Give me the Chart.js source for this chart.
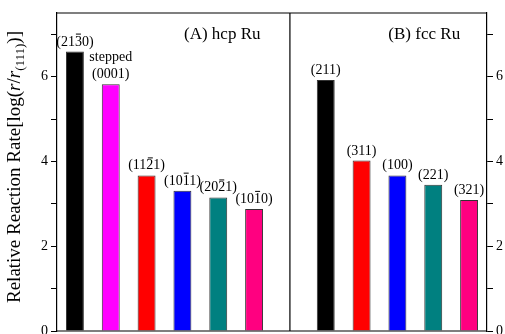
<!DOCTYPE html>
<html>
<head>
<meta charset="utf-8">
<script src="https://cdn.jsdelivr.net/npm/chart.js@4/dist/chart.umd.min.js"></script>
<style>
	html, body { margin: 0; padding: 0; background: #fff; overflow: hidden; }
	#wrap { width: 505px; height: 334px; overflow: hidden; }
</style>
</head>
<body>
<div id="wrap"><canvas id="canvasRate" width="505" height="360"></canvas></div>
<script>
// facets (U+0305 = overbar on the preceding digit)
var hcpFacets = ['(213\u03050)', '(0001)', '(112\u03051)', '(101\u03051)', '(202\u03051)', '(101\u03050)'];
var hcpRates = [6.59, 5.82, 3.67, 3.31, 3.15, 2.88];
var hcpColors = ['#000000', '#ff00ff', '#ff0000', '#0000ff', '#008080', '#ff0080'];

var fccFacets = ['(211)', '(311)', '(100)', '(221)', '(321)'];
var fccRates = [5.92, 4.02, 3.67, 3.45, 3.09];
var fccColors = ['#000000', '#ff0000', '#0000ff', '#008080', '#ff0080'];

var yTicks = [0, 2, 4, 6];
var panelTitles = ['(A) hcp Ru', '(B) fcc Ru'];
var extraNote = 'stepped';   // sits above (0001)

var SERIF = '"Liberation Serif", "DejaVu Serif", serif';

// one empty slot between the two panels
var allLabels = hcpFacets.concat(['']).concat(fccFacets);
var allRates = hcpRates.concat([null]).concat(fccRates);
var allColors = hcpColors.concat(['#fff']).concat(fccColors);
var gapIndex = hcpFacets.length;

/***********************************************************************************************
 * text with overbars
 ***********************************************************************************************/
function drawBarText(ctx, text, cx, y) {
	var plain = text.replace(/\u0305/g, '');
	var w = ctx.measureText(plain).width;
	var x = cx - w / 2;
	ctx.textAlign = 'left';
	ctx.fillText(plain, x, y);
	for (var i = 0; i < text.length; i++) {
		var ch = text[i];
		if (ch === '\u0305') continue;
		var cw = ctx.measureText(ch).width;
		if (text[i + 1] === '\u0305') {
			ctx.beginPath();
			ctx.lineWidth = 1;
			ctx.moveTo(x + 1, y - 11.5);
			ctx.lineTo(x + cw - 1, y - 11.5);
			ctx.stroke();
		}
		x += cw;
	}
}

var decorPlugin = {
	id: 'decor',
	afterDatasetsDraw: function(chart) {
		var ctx = chart.ctx;
		var area = chart.chartArea;
		var xs = chart.scales.x;
		ctx.save();
		ctx.strokeStyle = '#000';
		ctx.fillStyle = '#000';

		// frame + divider
		ctx.lineWidth = 1.2;
		ctx.beginPath();
		ctx.moveTo(area.left, area.top);
		ctx.lineTo(area.right, area.top);
		ctx.moveTo(area.left, area.bottom);
		ctx.lineTo(area.right, area.bottom);
		var xd = xs.getPixelForValue(gapIndex);
		ctx.moveTo(xd, area.top);
		ctx.lineTo(xd, area.bottom);
		ctx.stroke();

		// bar labels
		ctx.font = '14px ' + SERIF;
		ctx.textBaseline = 'alphabetic';
		var meta = chart.getDatasetMeta(0);
		meta.data.forEach(function(bar, i) {
			if (allRates[i] === null) return;
			drawBarText(ctx, allLabels[i], bar.x, bar.y - 6);
			if (i === 1) {
				ctx.textAlign = 'center';
				ctx.fillText(extraNote, bar.x, bar.y - 23);
			}
		});

		// panel titles
		ctx.font = '17px ' + SERIF;
		ctx.textAlign = 'center';
		ctx.fillText(panelTitles[0], xs.getPixelForValue(4) + 4, area.top + 26);
		ctx.fillText(panelTitles[1], xs.getPixelForValue(10) - 9, area.top + 26);

		// y title: Relative Reaction Rate[log(r/r_(111))]
		var parts = [
			{ t: 'Relative Reaction Rate[log(', f: '19px ' + SERIF, dy: 0 },
			{ t: 'r', f: 'italic 19px ' + SERIF, dy: 0 },
			{ t: '/', f: '19px ' + SERIF, dy: 0 },
			{ t: 'r', f: 'italic 19px ' + SERIF, dy: 0 },
			{ t: '(111)', f: '13px ' + SERIF, dy: 4 },
			{ t: ')]', f: '19px ' + SERIF, dy: 0 }
		];
		var total = 0;
		parts.forEach(function(p) { ctx.font = p.f; p.w = ctx.measureText(p.t).width; total += p.w; });
		ctx.translate(20, 167);
		ctx.rotate(-Math.PI / 2);
		ctx.textAlign = 'left';
		var px = -total / 2;
		parts.forEach(function(p) {
			ctx.font = p.f;
			ctx.fillText(p.t, px, p.dy);
			px += p.w;
		});
		ctx.restore();
	}
};

function yAxis(pos, width) {
	return {
		position: pos,
		min: 0,
		max: 7.5,
		afterBuildTicks: function(scale) {
			scale.ticks = scale.ticks.filter(function(t) { return Number.isInteger(t.value); });
		},
		afterFit: function(scale) { scale.width = width; },
		ticks: {
			stepSize: 1,
			color: '#000',
			padding: 3,
			font: { family: SERIF, size: 14 },
			callback: function(v) { return yTicks.indexOf(v) >= 0 ? String(v) : ''; }
		},
		grid: { drawOnChartArea: false, tickLength: 6, tickColor: '#000', tickWidth: 1 },
		border: { display: true, color: '#000', width: 1.2 }
	};
}

new Chart(document.getElementById('canvasRate'), {
	type: 'bar',
	data: {
		labels: allLabels,
		datasets: [{
			data: allRates,
			backgroundColor: allColors,
			borderColor: '#333',
			borderWidth: 1,
			categoryPercentage: 1.0,
			barPercentage: 0.5
		}]
	},
	options: {
		responsive: false,
		animation: false,
		layout: { padding: { top: 13, left: 0, right: 0, bottom: 0 } },
		plugins: {
			legend: { display: false },
			tooltip: { enabled: false }
		},
		scales: {
			x: {
				offset: true,
				afterFit: function(scale) { scale.height = 29; },
				ticks: { display: false },
				grid: { display: false },
				border: { display: false }
			},
			y: yAxis('left', 57),
			y2: yAxis('right', 18)
		}
	},
	plugins: [decorPlugin]
});
</script>
</body>
</html>
